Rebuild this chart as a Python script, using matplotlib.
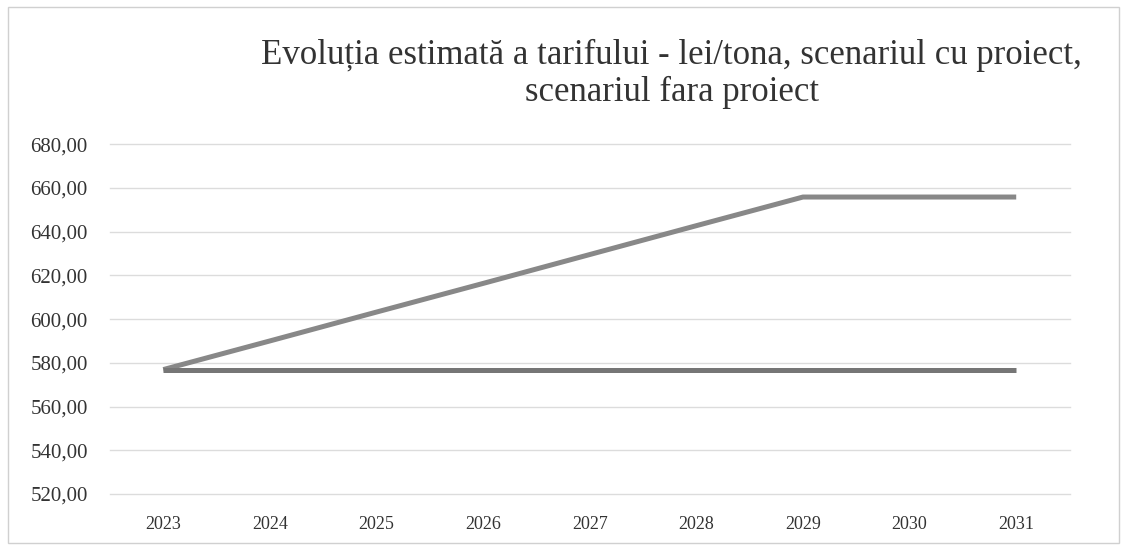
import matplotlib
matplotlib.use("Agg")
import matplotlib.pyplot as plt
from matplotlib.ticker import FuncFormatter
from matplotlib.patches import Rectangle

years = ["2023", "2024", "2025", "2026", "2027", "2028", "2029", "2030", "2031"]
cu_proiect = [576.9, 590.0, 603.2, 616.3, 629.5, 642.7, 655.8, 655.8, 655.8]
fara_proiect = [576.9, 576.9, 576.9, 576.9, 576.9, 576.9, 576.9, 576.9, 576.9]

plt.rcParams['font.family'] = ['Liberation Serif', 'DejaVu Serif']

fig = plt.figure(figsize=(11.27, 5.5), dpi=100)
ax = fig.add_axes([0.0976, 0.1018, 0.8514, 0.6362])

x = range(len(years))
ax.plot(x, cu_proiect, color='#888888', lw=3.6, solid_capstyle='butt', zorder=3)
ax.plot(x, fara_proiect, color='#767676', lw=3.6, solid_capstyle='butt', zorder=3)

ax.set_xlim(-0.5, len(years) - 0.5)
ax.set_ylim(520, 680)
ax.set_yticks(range(520, 681, 20))
ax.yaxis.set_major_formatter(FuncFormatter(lambda v, p: f"{v:.2f}".replace('.', ',')))
ax.set_xticks(list(x))
ax.set_xticklabels(years)
ax.tick_params(axis='y', length=0, labelsize=15, colors='#333333', pad=16)
ax.tick_params(axis='x', length=0, labelsize=13, colors='#333333', pad=16)
ax.grid(axis='y', color='#dcdcdc', lw=1)
for gl in ax.get_ygridlines():
    gl.set_clip_on(False)
ax.set_axisbelow(True)
for s in ax.spines.values():
    s.set_visible(False)

fig.text(0.596, 0.866, "Evoluția estimată a tarifului - lei/tona, scenariul cu proiect,\nscenariul fara proiect",
         ha='center', va='center', fontsize=25, color='#333333', linespacing=1.15)

fig.patches.append(Rectangle((0.007, 0.012), 0.986, 0.975, transform=fig.transFigure,
                             fill=False, edgecolor='#d0d0d0', lw=1))

fig.savefig("out.png", dpi=100)
